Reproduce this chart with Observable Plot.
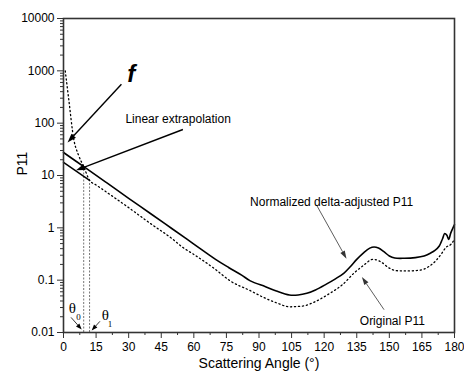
<!DOCTYPE html>
<html><head><meta charset="utf-8">
<script src="https://cdn.jsdelivr.net/npm/d3@7"></script>
<script src="https://cdn.jsdelivr.net/npm/@observablehq/plot@0.6"></script>
<style>body{margin:0;background:#fff}#chart svg{display:block}</style>
</head><body><div id="chart"></div>
<script>
// Normalized delta-adjusted P11 (solid)
const normAngle = [0,10,20,30,40,50,60,70,76,82,86,93,98,104,108,112,116,121,125,129,132,135,138,141,143,145,147.5,150,152.5,157,162,166,169,171,173,174.5,175.5,176.5,177.3,178.3,180];
const normP11   = [27.5,14.1,7.2,3.67,1.88,0.96,0.49,0.25,0.175,0.125,0.097,0.075,0.062,0.052,0.052,0.056,0.065,0.084,0.105,0.135,0.18,0.25,0.33,0.41,0.43,0.41,0.35,0.29,0.265,0.262,0.27,0.29,0.33,0.37,0.45,0.62,0.78,0.72,0.60,0.80,1.15];
// Original P11 (dotted)
const origAngle = [0.8,2.4,4.7,7,9.3,12,15,20,30,40,50,55,60,70,76.7,86,92,98,104,110,116.5,122,128.7,134,138,142.5,146,150,153,158,164,168,171.6,174,176,178.5,180];
const origP11   = [1000,290,50,24,14.8,8.1,6.6,4.75,2.43,1.21,0.62,0.42,0.31,0.16,0.097,0.063,0.047,0.037,0.031,0.032,0.04,0.054,0.084,0.14,0.19,0.25,0.225,0.17,0.152,0.15,0.155,0.18,0.24,0.32,0.42,0.49,0.6];
// Linear extrapolation (solid, forward part)
const extrapAngle = [0, 12];
const extrapP11   = [17.8, 8.1];
// theta0 / theta1 markers
const thetaAngle = [9.3, 12];
const thetaTop   = [14.8, 8.1];
// axes
const xTicks = d3.range(0, 181, 15);
const xMinor = d3.range(7.5, 180, 15);
const yTicks = [0.01, 0.1, 1, 10, 100, 1000, 10000];
const yTickLabels = ["0.01", "0.1", "1", "10", "100", "1000", "10000"];
const yMinor = [];
for (let e = -2; e < 4; e++) for (let k = 2; k <= 9; k++) yMinor.push(+(k * Math.pow(10, e)).toPrecision(3));

// annotations (data coordinates)
const labelTexts = [
  {x: 28.5, y: 121, t: "Linear extrapolation"},
  {x: 85.9, y: 3.05, t: "Normalized delta-adjusted P11"},
  {x: 136.4, y: 0.0167, t: "Original P11"}
];
const fLabel = [{x: 31.2, y: 842, t: "f"}];
const thetaLabels = [{x: 4.1, y: 0.0295, t: "θ"}, {x: 19.3, y: 0.0217, t: "θ"}];
const thetaSubs = [{x: 6.9, y: 0.0195, t: "0"}, {x: 21.4, y: 0.0146, t: "1"}];
const boldArrows = [
  {x1: 26.9, y1: 542, x2: 2.1, y2: 42},
  {x1: 55.2, y1: 74, x2: 6.0, y2: 12.3}
];
const thinArrows = [
  {x1: 116.8, y1: 2.63, x2: 130.5, y2: 0.252},
  {x1: 147.8, y1: 0.0267, x2: 137.6, y2: 0.112}
];
const thetaArrows = [
  {x1: 3.7, y1: 0.019, x2: 8.6, y2: 0.0112},
  {x1: 17, y1: 0.016, x2: 13.2, y2: 0.0107}
];

const norm = normAngle.map((a, i) => ({a, v: normP11[i]}));
const orig = origAngle.map((a, i) => ({a, v: origP11[i]}));
const extrap = extrapAngle.map((a, i) => ({a, v: extrapP11[i]}));
const thetas = thetaAngle.map((a, i) => ({a, bottom: 0.01, top: thetaTop[i]}));

function filledArrows(list, {stroke = "#000", strokeWidth = 1.2, headLength = 8, headWidth = 5} = {}) {
  return (index, scales) => {
    const g = d3.create("svg:g");
    for (const a of list) {
      const x1 = scales.x(a.x1), y1 = scales.y(a.y1), x2 = scales.x(a.x2), y2 = scales.y(a.y2);
      const ang = Math.atan2(y2 - y1, x2 - x1);
      const bx = x2 - headLength * Math.cos(ang), by = y2 - headLength * Math.sin(ang);
      g.append("line").attr("x1", x1).attr("y1", y1).attr("x2", bx).attr("y2", by)
        .attr("stroke", stroke).attr("stroke-width", strokeWidth);
      const px = -Math.sin(ang) * headWidth / 2, py = Math.cos(ang) * headWidth / 2;
      g.append("path").attr("d", `M${x2},${y2}L${bx + px},${by + py}L${bx - px},${by - py}Z`).attr("fill", stroke);
    }
    return g.node();
  };
}

const sans = "Arial, 'Liberation Sans', sans-serif";
const serif = "'Liberation Serif', 'Times New Roman', serif";

const chart = Plot.plot({
  width: 464, height: 382,
  marginLeft: 63, marginRight: 10, marginTop: 18, marginBottom: 50,
  style: {fontFamily: sans, fontSize: "12px", color: "#000", background: "#fff"},
  x: {domain: [0, 180]},
  y: {type: "log", domain: [0.01, 10000]},
  marks: [
    Plot.axisY(yMinor, {tickSize: 3, tickFormat: () => "", label: null, stroke: "#333"}),
    Plot.axisY(yTicks, {tickSize: 6, tickPadding: 3, tickFormat: d => yTickLabels[yTicks.indexOf(d)], label: null, stroke: "#333", fontSize: 12}),
    Plot.axisX(xMinor, {tickSize: 3, tickFormat: () => "", label: null, stroke: "#333"}),
    Plot.axisX(xTicks, {tickSize: 6, tickPadding: 4, label: null, stroke: "#333", fontSize: 12}),
    Plot.ruleX(thetas, {x: "a", y1: "bottom", y2: "top", stroke: "#777", strokeWidth: 1, strokeDasharray: "2,1.5"}),
    Plot.line(orig, {x: "a", y: "v", stroke: "#000", strokeWidth: 1.3, strokeDasharray: "1.2,2.8", curve: "monotone-x"}),
    Plot.line(extrap, {x: "a", y: "v", stroke: "#000", strokeWidth: 1.5}),
    Plot.line(norm, {x: "a", y: "v", stroke: "#000", strokeWidth: 1.6, curve: "catmull-rom"}),
    Plot.frame({stroke: "#333", strokeWidth: 1.6}),
    filledArrows(boldArrows, {stroke: "#000", strokeWidth: 1.4, headLength: 9, headWidth: 6}),
    filledArrows(thinArrows, {stroke: "#333", strokeWidth: 0.8, headLength: 8, headWidth: 5}),
    filledArrows(thetaArrows, {stroke: "#000", strokeWidth: 0.8, headLength: 6, headWidth: 4.5}),
    Plot.text(labelTexts, {x: "x", y: "y", text: "t", textAnchor: "start", fontSize: 12, fill: "#000"}),
    Plot.text(fLabel, {x: "x", y: "y", text: "t", fontSize: 24, fontWeight: "bold", fontStyle: "italic", fontFamily: sans, fill: "#000"}),
    Plot.text(thetaLabels, {x: "x", y: "y", text: "t", fontSize: 15, fontFamily: serif, fill: "#000"}),
    Plot.text(thetaSubs, {x: "x", y: "y", text: "t", fontSize: 9, fontFamily: serif, fill: "#000"}),
    Plot.text(["P11"], {frameAnchor: "left", dx: -40.5, rotate: -90, fontSize: 14, fill: "#000"}),
    Plot.text(["Scattering Angle (°)"], {frameAnchor: "bottom", dy: 35, fontSize: 14, fill: "#000"})
  ]
});
document.getElementById("chart").appendChild(chart);
</script>
</body></html>
